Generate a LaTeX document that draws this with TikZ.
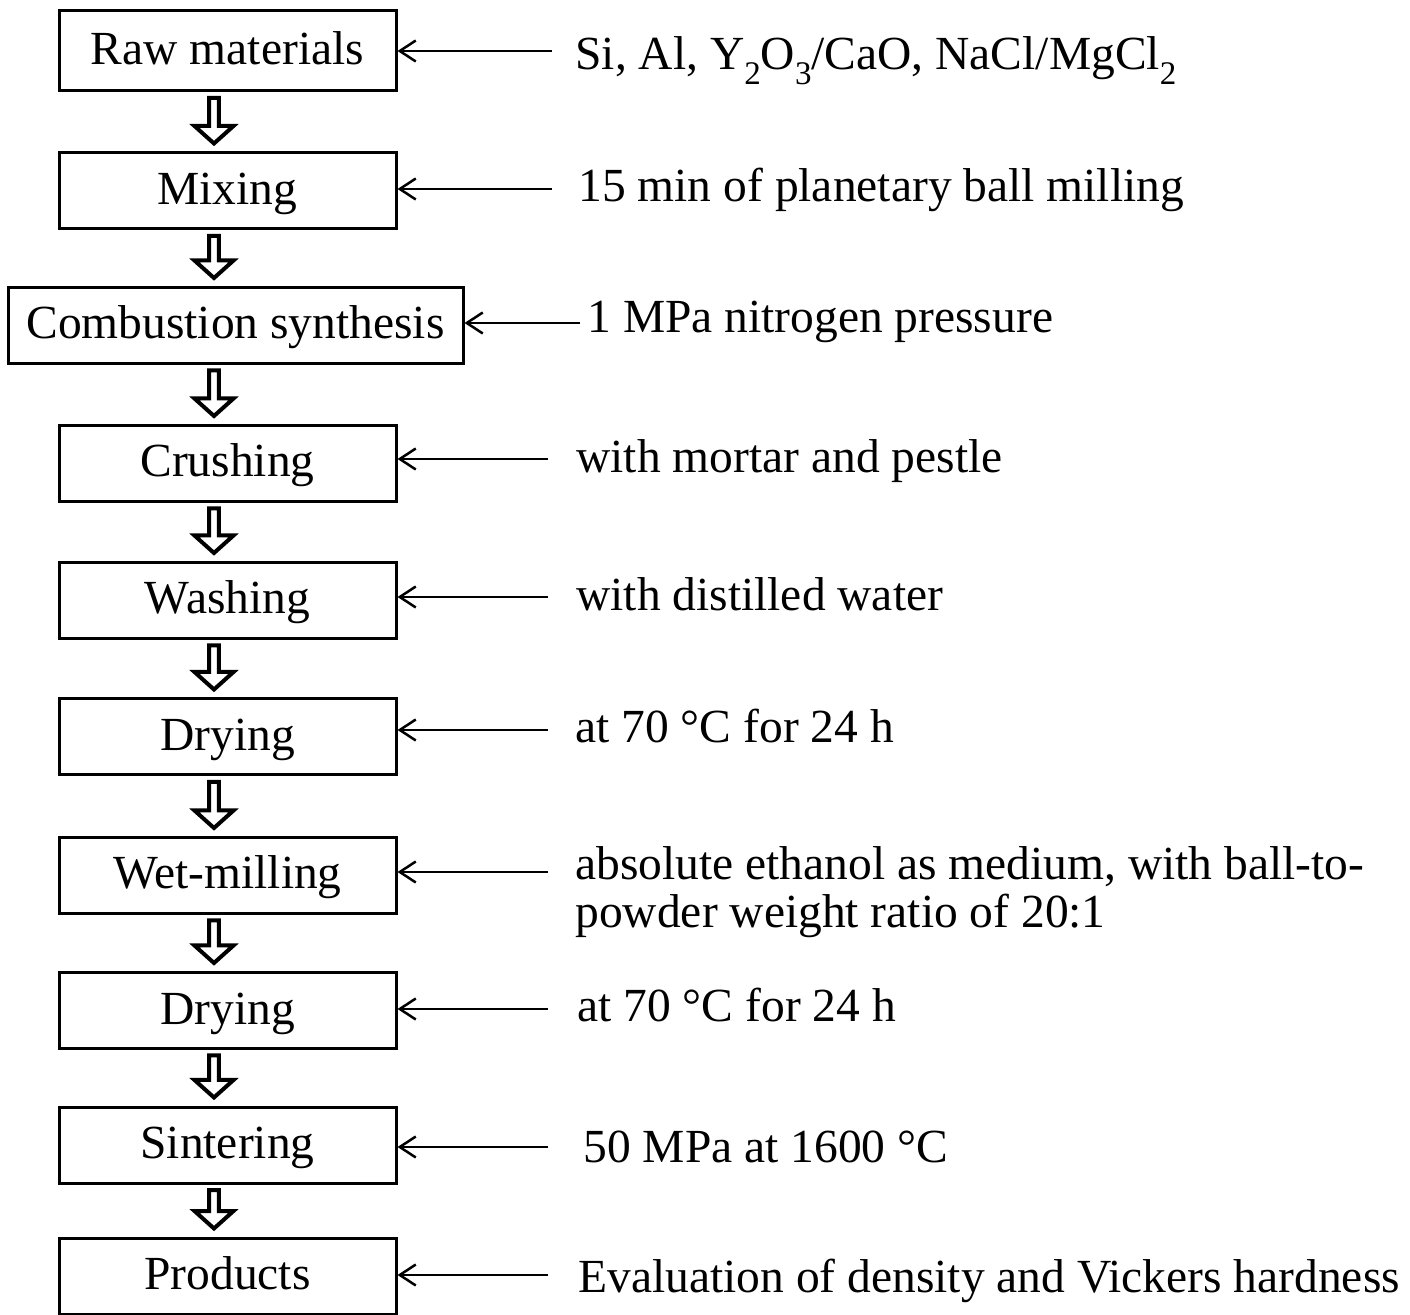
\documentclass[tikz,border=0pt]{standalone}
\usepackage{fontspec}
\setmainfont{Liberation Serif}
\usetikzlibrary{arrows.meta,calc}
\newcommand{\sbs}[1]{\raisebox{-0.3em}{\fontsize{16.5}{16.5}\selectfont #1}}
\newcommand{\flowarrow}[2]{%
  \draw[blockarr] let \p1=($(ax|-#1.south)+(0,5.5)$), \p2=($(ax|-#2.north)+(0,-8)$) in
    (\x1-2.4pt,\y1) -- (\x1-2.4pt,\y2+8.75pt) -- (\x1-9.75pt,\y2+8.75pt) -- (\x1,\y2)
    -- (\x1+9.75pt,\y2+8.75pt) -- (\x1+2.4pt,\y2+8.75pt) -- (\x1+2.4pt,\y1) -- cycle;}
\begin{document}
\begin{tikzpicture}[x=0.5pt,y=-0.5pt,
  every node/.style={font=\fontsize{23.75}{23.75}\selectfont},
  procbox/.style={draw, line width=1.5pt, minimum width=168.5pt, minimum height=38pt,
    inner sep=0pt, text height=19pt, text depth=5.5pt, align=center},
  note/.style={anchor=base west, inner sep=0pt, align=left},
  thinarr/.style={line width=1.25pt, -{Straight Barb[length=8pt,width=10.5pt]}},
  blockarr/.style={draw, line width=2pt, fill=white, line join=miter}
]
\useasboundingbox (0,0) rectangle (1410,1315);
\coordinate (ax) at (214,0);

% process boxes
\node[procbox, minimum height=40pt] (raw) at (227.5,51) {Raw materials};
\node[procbox] (mix) at (227.5,191) {Mixing};
\node[procbox, minimum width=227.5pt] (comb) at (235.5,325.5) {Combustion synthesis};
\node[procbox] (crush) at (227.5,463.5) {Crushing};
\node[procbox] (wash) at (227.5,600.5) {Washing};
\node[procbox] (dry1) at (227.5,737) {Drying};
\node[procbox] (wet) at (227.5,875.5) {Wet-milling};
\node[procbox] (dry2) at (227.5,1010.5) {Drying};
\node[procbox] (sint) at (227.5,1145) {Sintering};
\node[procbox] (prod) at (227.5,1276) {Products};

% block arrows
\flowarrow{raw}{mix}
\flowarrow{mix}{comb}
\flowarrow{comb}{crush}
\flowarrow{crush}{wash}
\flowarrow{wash}{dry1}
\flowarrow{dry1}{wet}
\flowarrow{wet}{dry2}
\flowarrow{dry2}{sint}
\flowarrow{sint}{prod}

% notes
\node[note] (nraw) at (575,70) {Si, Al, Y\sbs{2}O\sbs{3}/CaO, NaCl/MgCl\sbs{2}};
\node[note] (nmix) at (578,202) {15 min of planetary ball milling};
\node[note] (ncomb) at (587,333) {1 MPa nitrogen pressure};
\node[note] (ncrush) at (576,473) {with mortar and pestle};
\node[note] (nwash) at (576,611) {with distilled water};
\node[note] (ndry1) at (575,743) {at 70 °C for 24 h};
\node[note] (nwet) at (575,880) {absolute ethanol as medium, with ball-to-};
\node[note] (nwetb) at (575,928) {powder weight ratio of 20:1};
\node[note] (ndry2) at (577,1022) {at 70 °C for 24 h};
\node[note] (nsint) at (583,1162) {50 MPa at 1600 °C};
\node[note] (nprod) at (578,1292) {Evaluation of density and Vickers hardness};

% thin arrows
\coordinate (craw) at (552,51);
\coordinate (cmix) at (552,189);
\coordinate (ccomb) at (580,323);
\coordinate (ccrush) at (548,459);
\coordinate (cwash) at (548,597);
\coordinate (cdry1) at (548,730);
\coordinate (cwet) at (548,872);
\coordinate (cdry2) at (548,1009);
\coordinate (csint) at (548,1147);
\coordinate (cprod) at (548,1275);
\draw[thinarr] (craw) -- (raw.east |- craw);
\draw[thinarr] (cmix) -- (mix.east |- cmix);
\draw[thinarr] (ccomb) -- (comb.east |- ccomb);
\draw[thinarr] (ccrush) -- (crush.east |- ccrush);
\draw[thinarr] (cwash) -- (wash.east |- cwash);
\draw[thinarr] (cdry1) -- (dry1.east |- cdry1);
\draw[thinarr] (cwet) -- (wet.east |- cwet);
\draw[thinarr] (cdry2) -- (dry2.east |- cdry2);
\draw[thinarr] (csint) -- (sint.east |- csint);
\draw[thinarr] (cprod) -- (prod.east |- cprod);
\end{tikzpicture}
\end{document}
